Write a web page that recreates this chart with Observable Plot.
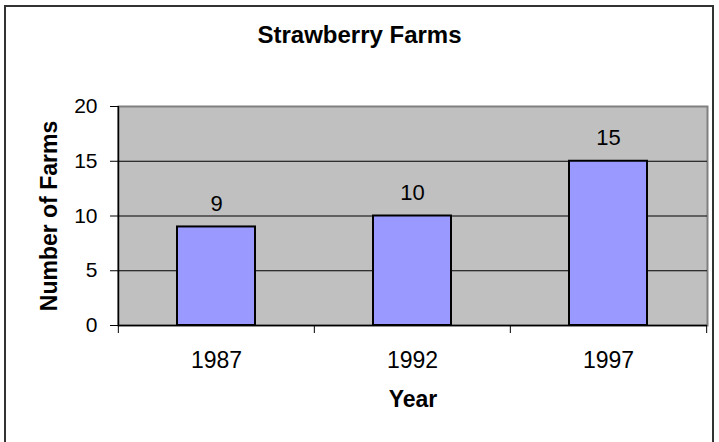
<!DOCTYPE html>
<html>
<head>
<meta charset="utf-8">
<script src="https://cdn.jsdelivr.net/npm/d3@7"></script>
<script src="https://cdn.jsdelivr.net/npm/@observablehq/plot@0.6"></script>
<style>
  html, body { margin: 0; padding: 0; background: #fff; }
  #wrap { position: relative; width: 719px; height: 442px; overflow: hidden; background: #fff; font-family: "Liberation Sans", Arial, sans-serif; }
  #border { position: absolute; left: 4px; top: 5px; width: 706px; height: 460px; border: 2px solid #333; }
  #title { position: absolute; left: 0; top: 23px; width: 719px; text-align: center; font-size: 24px; line-height: 24px; font-weight: bold; color: #000; }
  #chart { position: absolute; left: 0; top: 80px; }
</style>
</head>
<body>
<div id="wrap">
  <div id="border"></div>
  <div id="title">Strawberry Farms</div>
  <div id="chart"></div>
</div>
<script>
const years = ["1987", "1992", "1997"];
const farms = [9, 10, 15];
const yTicks = [0, 5, 10, 15, 20];
const titleText = "Strawberry Farms";
const xLabel = "Year";
const yLabel = "Number of Farms";

const data = years.map((year, i) => ({year, farms: farms[i]}));

const W = 719, H = 362;
const mL = 118, mR = 12, mT = 26, mB = 117;
const step = (W - mL - mR) / years.length;

const chart = Plot.plot({
  width: W,
  height: H,
  marginLeft: mL,
  marginRight: mR,
  marginTop: mT,
  marginBottom: mB,
  style: {fontFamily: "'Liberation Sans', Arial, sans-serif", background: "transparent", color: "#000"},
  x: {type: "band", domain: years, paddingInner: 0.6, paddingOuter: 0.3, axis: null},
  y: {domain: [yTicks[0], yTicks[yTicks.length - 1]], axis: null},
  marks: [
    Plot.frame({fill: "#C0C0C0", stroke: "#808080", strokeWidth: 2}),
    Plot.ruleY(yTicks.slice(1, -1), {stroke: "#000", strokeWidth: 1}),
    Plot.ruleY([yTicks[0]], {stroke: "#000", strokeWidth: 1.5}),
    Plot.ruleX([years[0]], {dx: -step / 2, stroke: "#000", strokeWidth: 1.5}),
    Plot.barY(data, {x: "year", y: "farms", fill: "#9999FF", stroke: "#000", strokeWidth: 2}),
    Plot.text(data, {x: "year", y: "farms", text: d => String(d.farms), lineAnchor: "bottom", dy: -16, fontSize: 22, fill: "#000"}),
    Plot.axisY({ticks: yTicks, tickSize: 8, tickPadding: 13, fontSize: 21, label: null, stroke: "#000", fill: "#000"}),
    Plot.axisX({tickSize: 0, tickPadding: 26, fontSize: 23, label: null, fill: "#000"}),
    Plot.axisX({tickSize: 8, fill: "none", label: null, dx: -step / 2, stroke: "#000"}),
    Plot.axisX({ticks: [years[years.length - 1]], tickSize: 8, fill: "none", label: null, dx: step / 2, stroke: "#000"}),
    Plot.text([xLabel], {frameAnchor: "bottom", text: d => d, textAnchor: "middle", lineAnchor: "top", dy: 65, fontSize: 23, fontWeight: "bold", fill: "#000"}),
    Plot.text([yLabel], {frameAnchor: "left", text: d => d, rotate: -90, textAnchor: "middle", lineAnchor: "bottom", dx: -62, fontSize: 23, fontWeight: "bold", fill: "#000"})
  ]
});
document.getElementById("title").textContent = titleText;
document.getElementById("chart").appendChild(chart);
</script>
</body>
</html>
